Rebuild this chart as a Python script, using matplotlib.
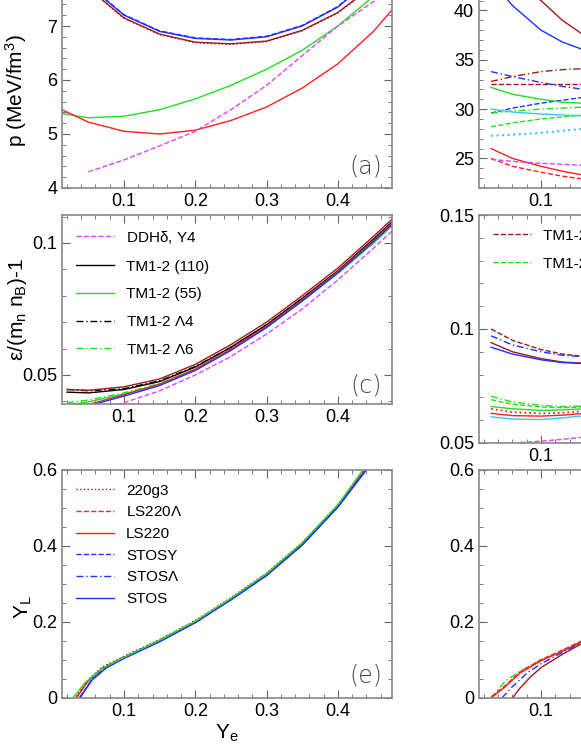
import matplotlib
matplotlib.use("Agg")
import matplotlib.pyplot as plt
from matplotlib.ticker import MultipleLocator

plt.rcParams['font.family'] = ['Liberation Sans', 'DejaVu Sans']
plt.rcParams['font.size'] = 13
plt.rcParams['mathtext.default'] = 'regular'

# ---------------- data ---------------- #
xa = [0.013, 0.05, 0.1, 0.15, 0.2, 0.25, 0.3, 0.35, 0.4, 0.45, 0.476]

# (a) pressure, left column
p_stos = [8.3, 7.75, 7.2, 6.9, 6.77, 6.74, 6.8, 7.0, 7.35, 7.9, 8.2]
p_ls = [8.25, 7.7, 7.15, 6.85, 6.7, 6.67, 6.72, 6.92, 7.25, 7.75, 8.05]
p_tm55 = [5.38, 5.3, 5.33, 5.45, 5.65, 5.9, 6.2, 6.55, 7.0, 7.55, 7.9]
p_ls220 = [5.45, 5.22, 5.05, 5.0, 5.07, 5.25, 5.5, 5.85, 6.3, 6.9, 7.3]
xa_ddh = [0.05, 0.1, 0.15, 0.2, 0.25, 0.3, 0.35, 0.4, 0.45, 0.476]
p_ddh = [4.3, 4.52, 4.78, 5.05, 5.45, 5.9, 6.45, 7.0, 7.45, 7.7]

# (b) pressure, right column
xb = [0.03, 0.06, 0.1, 0.13, 0.16, 0.2]
pb_brown = [45.0, 43.0, 41.0, 39.0, 37.5, 36.0]
pb_blue = [43.0, 40.5, 38.0, 36.8, 36.0, 35.3]
pb_brown_dd = [32.8, 33.3, 33.8, 34.0, 34.1, 34.2]
pb_brown_da = [32.5, 32.5, 32.5, 32.5, 32.5, 32.4]
pb_blue_dd = [33.8, 33.3, 32.7, 32.3, 32.0, 31.6]
pb_blue_da = [29.6, 30.1, 30.6, 30.9, 31.2, 31.5]
pb_green = [32.2, 31.5, 31.0, 30.7, 30.6, 30.5]
pb_green_dd = [29.6, 29.8, 30.0, 30.1, 30.2, 30.3]
pb_green_da = [28.2, 28.6, 29.0, 29.2, 29.4, 29.6]
pb_cyan = [30.0, 29.7, 29.5, 29.4, 29.3, 29.3]
pb_cyan_dt = [27.3, 27.4, 27.6, 27.8, 28.0, 28.2]
pb_red = [26.0, 25.0, 24.2, 23.7, 23.3, 23.0]
pb_red_da = [25.0, 24.2, 23.6, 23.2, 22.9, 22.7]
pb_magenta = [24.9, 24.7, 24.5, 24.4, 24.3, 24.2]

# (c) energy per baryon, left column
xc = [0.02, 0.05, 0.1, 0.15, 0.2, 0.25, 0.3, 0.35, 0.4, 0.45, 0.476]
e_tm110 = [0.0435, 0.0432, 0.0445, 0.0475, 0.053, 0.0605, 0.069, 0.079, 0.0895, 0.1015, 0.108]
e_tm_l4 = [0.0445, 0.044, 0.0448, 0.0478, 0.0532, 0.0605, 0.069, 0.079, 0.0893, 0.101, 0.1075]
e_tm55 = [0.0385, 0.0398, 0.0428, 0.0465, 0.052, 0.0595, 0.068, 0.078, 0.0885, 0.1, 0.1065]
e_tm_l6 = [0.0395, 0.0405, 0.0432, 0.0468, 0.0522, 0.0597, 0.068, 0.078, 0.0885, 0.1, 0.1065]
e_ls220 = [0.037, 0.0388, 0.0425, 0.0465, 0.0522, 0.0598, 0.0685, 0.0785, 0.0892, 0.101, 0.1075]
xc_ddh = [0.05, 0.1, 0.15, 0.2, 0.25, 0.3, 0.35, 0.4, 0.45, 0.476]
e_ddh = [0.0355, 0.0395, 0.044, 0.05, 0.057, 0.0655, 0.075, 0.086, 0.098, 0.1045]

# (d) energy per baryon, right column
xd = [0.03, 0.06, 0.1, 0.13, 0.16, 0.2]
ed_brown_dd = [0.1, 0.095, 0.091, 0.089, 0.088, 0.087]
ed_blue_dd = [0.097, 0.093, 0.09, 0.0885, 0.0878, 0.087]
ed_brown = [0.094, 0.09, 0.087, 0.0855, 0.085, 0.085]
ed_blue = [0.092, 0.089, 0.0865, 0.0853, 0.0848, 0.0848]
ed_green_da = [0.0705, 0.068, 0.0665, 0.066, 0.0662, 0.067]
ed_green_dd = [0.069, 0.067, 0.0658, 0.0655, 0.0658, 0.0665]
ed_green = [0.066, 0.065, 0.0643, 0.0645, 0.065, 0.066]
ed_red_dt = [0.065, 0.0635, 0.063, 0.0632, 0.064, 0.065]
ed_red = [0.063, 0.062, 0.0618, 0.0622, 0.063, 0.0645]
ed_cyan = [0.0615, 0.0605, 0.0603, 0.061, 0.062, 0.0635]
xd_ddh = [0.07, 0.1, 0.13, 0.16, 0.2]
ed_ddh = [0.0502, 0.0508, 0.0516, 0.0526, 0.054]

# (e) lepton fraction, left column
xe = [0.033, 0.05, 0.07, 0.1, 0.15, 0.2, 0.25, 0.3, 0.35, 0.4, 0.44]
yl_red = [0.0, 0.045, 0.078, 0.106, 0.15, 0.2, 0.26, 0.325, 0.405, 0.505, 0.605]
xe_g = [0.028, 0.045, 0.07, 0.1, 0.15, 0.2, 0.25, 0.3, 0.35, 0.4, 0.437]
yl_green = [0.0, 0.04, 0.078, 0.107, 0.152, 0.202, 0.262, 0.327, 0.408, 0.508, 0.605]
xe_b = [0.038, 0.055, 0.075, 0.1, 0.15, 0.2, 0.25, 0.3, 0.35, 0.4, 0.442]
yl_blue = [0.0, 0.047, 0.079, 0.104, 0.148, 0.198, 0.258, 0.322, 0.402, 0.502, 0.605]

# (f) lepton fraction, right column
xf = [0.03, 0.05, 0.07, 0.1, 0.13, 0.16]
yf_green = [0.0, 0.045, 0.07, 0.1, 0.125, 0.152]
yf_red = [0.0, 0.03, 0.065, 0.098, 0.123, 0.15]
xf_b = [0.045, 0.06, 0.08, 0.1, 0.13, 0.16]
yf_blue = [0.0, 0.03, 0.065, 0.09, 0.12, 0.148]
xf_br = [0.06, 0.07, 0.085, 0.1, 0.13, 0.16]
yf_brown = [0.0, 0.025, 0.055, 0.08, 0.115, 0.146]

RED = '#ff2020'
BRN = '#a01818'
BLU = '#2030ff'
GRN = '#20e020'
MAG = '#dd44ff'
CYN = '#30c8ff'
DD = (0, (5, 2, 1, 2))

W, H = 581, 752
fig = plt.figure(figsize=(W / 100, H / 100), dpi=100)


def make_ax(x0, top, bot, w=330):
    ax = fig.add_axes([x0 / W, 1 - bot / H, w / W, (bot - top) / H])
    for s in ax.spines.values():
        s.set_color('#888888')
        s.set_linewidth(1.2)
    ax.tick_params(which='both', direction='in', top=True, right=True, color='#666666')
    ax.tick_params(which='major', length=6)
    ax.tick_params(which='minor', length=3)
    ax.set_xlim(0.013, 0.476)
    ax.xaxis.set_major_locator(MultipleLocator(0.1))
    ax.xaxis.set_minor_locator(MultipleLocator(0.02))
    return ax


def panel_tag(ax, s):
    ax.text(0.92, 0.1, s, transform=ax.transAxes, fontsize=17, color='#444444',
            ha='center', va='center', family='DejaVu Sans', fontweight='light')


# (a)
ax = make_ax(62, -28, 188)
ax.plot(xa, p_stos, color=BLU, lw=1)
ax.plot(xa, [v + 0.01 for v in p_stos], color=BLU, lw=1, ls='--')
ax.plot(xa, p_ls, color=BRN, lw=1)
ax.plot(xa, [v - 0.01 for v in p_ls], color=BRN, lw=1, ls=':')
ax.plot(xa, p_tm55, color=GRN, lw=1)
ax.plot(xa, p_ls220, color=RED, lw=1)
ax.plot(xa_ddh, p_ddh, color=MAG, lw=1, ls='--')
ax.set_ylim(4, 8)
ax.yaxis.set_major_locator(MultipleLocator(1))
ax.yaxis.set_minor_locator(MultipleLocator(0.2))
ax.set_ylabel('p (MeV/fm$^3$)', fontsize=15)
ax.yaxis.set_label_coords(-0.1, 0.45)
panel_tag(ax, '(a)')

# (b)
ax = make_ax(479, -28, 188)
ax.plot(xb, pb_brown, color=BRN, lw=1)
ax.plot(xb, pb_blue, color=BLU, lw=1)
ax.plot(xb, pb_brown_dd, color=BRN, lw=1, ls=DD)
ax.plot(xb, pb_brown_da, color=BRN, lw=1, ls='--')
ax.plot(xb, pb_blue_dd, color=BLU, lw=1, ls=DD)
ax.plot(xb, pb_blue_da, color=BLU, lw=1, ls='--')
ax.plot(xb, pb_green, color=GRN, lw=1)
ax.plot(xb, pb_green_dd, color=GRN, lw=1, ls=DD)
ax.plot(xb, pb_green_da, color=GRN, lw=1, ls='--')
ax.plot(xb, pb_cyan, color=CYN, lw=1)
ax.plot(xb, pb_cyan_dt, color=CYN, lw=1.5, ls=':')
ax.plot(xb, pb_red, color=RED, lw=1)
ax.plot(xb, pb_red_da, color=RED, lw=1, ls='--')
ax.plot(xb, pb_magenta, color=MAG, lw=1, ls='--')
ax.set_ylim(22, 43.9)
ax.yaxis.set_major_locator(MultipleLocator(5))
ax.yaxis.set_minor_locator(MultipleLocator(1))

# (c)
ax = make_ax(62, 215, 404)
ax.plot(xc_ddh, e_ddh, color=MAG, lw=1, ls='--', label='DDH$\\delta$, Y4')
ax.plot(xc, e_tm110, color='black', lw=1, label='TM1-2 (110)')
ax.plot(xc, e_tm55, color=GRN, lw=1, label='TM1-2 (55)')
ax.plot(xc, e_tm_l4, color='black', lw=1, ls=DD, label='TM1-2 $\\Lambda$4')
ax.plot(xc, e_tm_l6, color=GRN, lw=1, ls=DD, label='TM1-2 $\\Lambda$6')
ax.plot(xc, e_ls220, color=RED, lw=1)
ax.plot(xc, [v + 0.001 for v in e_tm110], color=BRN, lw=1)
ax.plot(xc, [v - 0.0005 for v in e_ls220], color=BLU, lw=1)
ax.set_ylim(0.039, 0.1106)
ax.yaxis.set_minor_locator(MultipleLocator(0.01))
ax.set_yticks([0.05, 0.1])
ax.set_yticklabels(['0.05', '0.1'])
ax.set_ylabel('$\\epsilon$/(m$_n$ n$_B$)-1', fontsize=15)
ax.yaxis.set_label_coords(-0.1, 0.5)
ax.legend(loc='upper left', frameon=False, fontsize=11, handlelength=2.5, labelspacing=0.9)
panel_tag(ax, '(c)')

# (d)
ax = make_ax(479, 215, 443)
ax.plot(xd, ed_brown_dd, color=BRN, lw=1, ls='--', label='TM1-2 Y4')
ax.plot(xd, ed_green_dd, color=GRN, lw=1, ls='--', label='TM1-2 Y6')
ax.plot(xd, ed_blue_dd, color=BLU, lw=1, ls=DD)
ax.plot(xd, ed_brown, color=BRN, lw=1)
ax.plot(xd, ed_blue, color=BLU, lw=1)
ax.plot(xd, ed_green_da, color=GRN, lw=1, ls=DD)
ax.plot(xd, ed_green, color=GRN, lw=1)
ax.plot(xd, ed_red_dt, color=RED, lw=1.3, ls=':')
ax.plot(xd, ed_red, color=RED, lw=1)
ax.plot(xd, ed_cyan, color=CYN, lw=1)
ax.plot(xd_ddh, ed_ddh, color=MAG, lw=1, ls='--')
ax.set_ylim(0.05, 0.15)
ax.set_yticks([0.05, 0.1, 0.15])
ax.set_yticklabels(['0.05', '0.1', '0.15'])
ax.yaxis.set_minor_locator(MultipleLocator(0.01))
ax.legend(loc='upper left', frameon=False, fontsize=11, handlelength=2.5, labelspacing=0.9)

# (e)
ax = make_ax(62, 470, 698)
ax.plot(xe, [v + 0.004 for v in yl_red], color=BRN, lw=1, ls=':', label='220g3')
ax.plot(xe, [v + 0.002 for v in yl_red], color=RED, lw=1, ls='--', label='LS220$\\Lambda$')
ax.plot(xe, yl_red, color=RED, lw=1, label='LS220')
ax.plot(xe_b, [v + 0.002 for v in yl_blue], color=BLU, lw=1, ls='--', label='STOSY')
ax.plot(xe_b, [v + 0.001 for v in yl_blue], color=BLU, lw=1, ls=DD, label='STOS$\\Lambda$')
ax.plot(xe_b, yl_blue, color=BLU, lw=1, label='STOS')
ax.plot(xe_g, yl_green, color=GRN, lw=1)
ax.set_ylim(0, 0.6)
ax.set_yticks([0, 0.2, 0.4, 0.6])
ax.set_yticklabels(['0', '0.2', '0.4', '0.6'])
ax.yaxis.set_minor_locator(MultipleLocator(0.05))
ax.set_ylabel('Y$_L$', fontsize=15)
ax.yaxis.set_label_coords(-0.085, 0.4)
ax.set_xlabel('Y$_e$', fontsize=15, labelpad=2)
ax.legend(loc='upper left', frameon=False, fontsize=11, handlelength=2.5, labelspacing=0.5)
panel_tag(ax, '(e)')

# (f)
ax = make_ax(479, 470, 698)
ax.plot(xf, yf_green, color=GRN, lw=1, ls=DD)
ax.plot(xf, yf_red, color=RED, lw=1)
ax.plot(xf, [v + 0.003 for v in yf_red], color=RED, lw=1, ls='--')
ax.plot(xf_b, yf_blue, color=BLU, lw=1, ls=DD)
ax.plot(xf_br, yf_brown, color=BRN, lw=1)
ax.set_ylim(0, 0.6)
ax.set_yticks([0, 0.2, 0.4, 0.6])
ax.set_yticklabels(['0', '0.2', '0.4', '0.6'])
ax.yaxis.set_minor_locator(MultipleLocator(0.05))

fig.savefig('out.png', dpi=100)
